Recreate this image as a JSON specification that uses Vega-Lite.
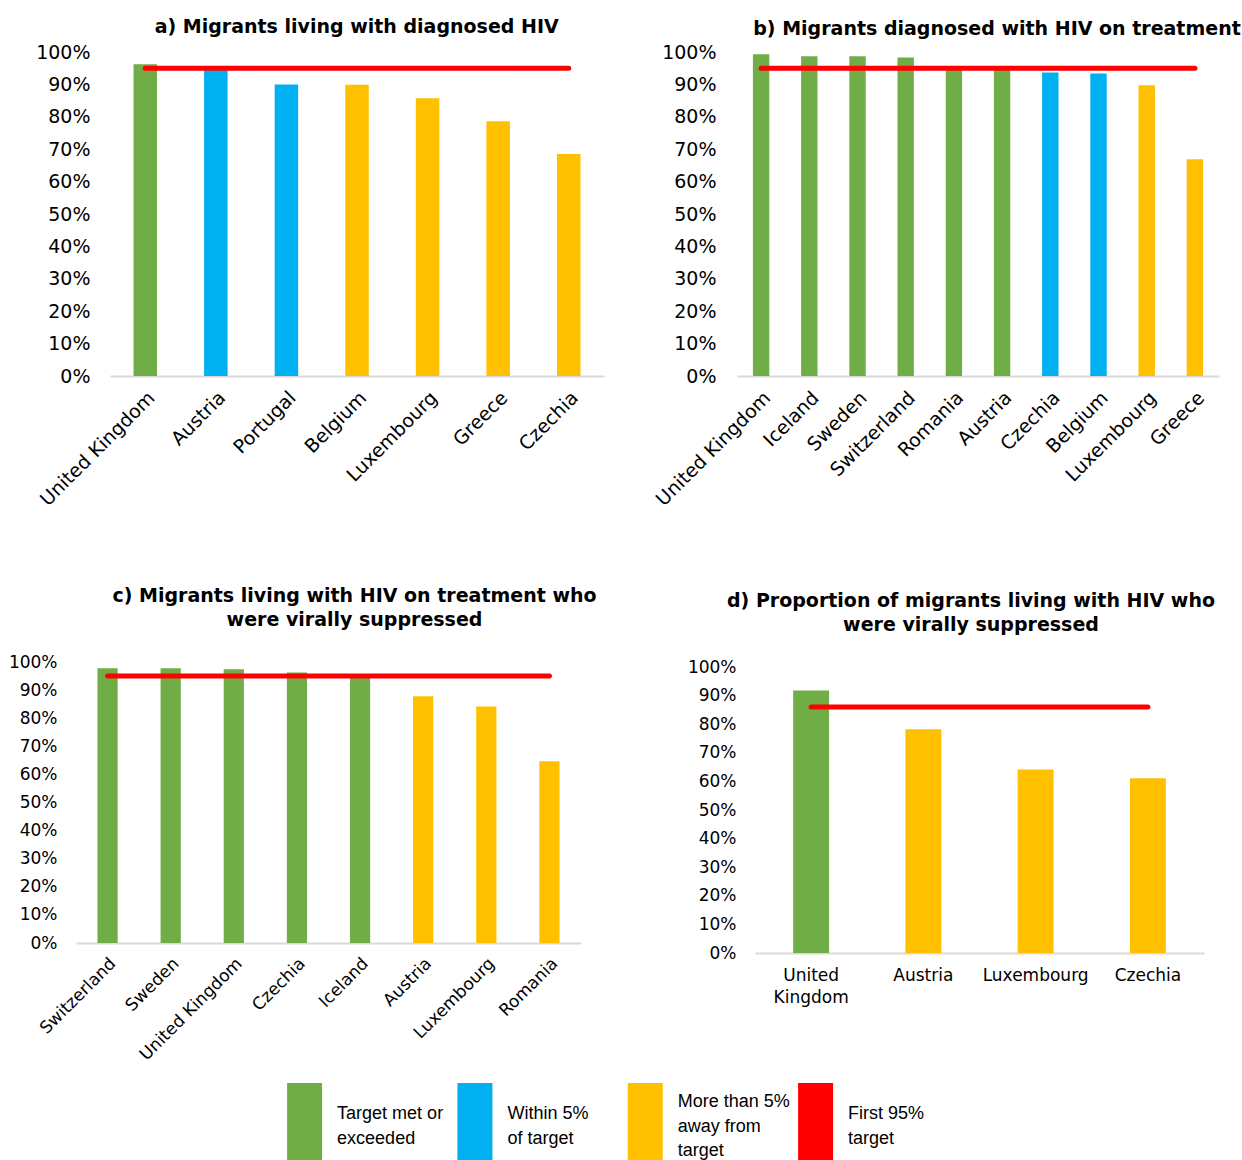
{
  "$schema": "https://vega.github.io/schema/vega-lite/v6.json",
  "padding": {"left": 8, "top": 18, "right": 0, "bottom": 0},
  "background": "white",
  "datasets": {
    "a": [
      {"country": "United Kingdom", "value": 0.962, "status": "Target met or exceeded"},
      {"country": "Austria", "value": 0.945, "status": "Within 5% of target"},
      {"country": "Portugal", "value": 0.900, "status": "Within 5% of target"},
      {"country": "Belgium", "value": 0.899, "status": "More than 5% away from target"},
      {"country": "Luxembourg", "value": 0.857, "status": "More than 5% away from target"},
      {"country": "Greece", "value": 0.786, "status": "More than 5% away from target"},
      {"country": "Czechia", "value": 0.685, "status": "More than 5% away from target"}
    ],
    "aTarget": [{"country": "United Kingdom", "to": "Czechia", "value": 0.95}],
    "b": [
      {"country": "United Kingdom", "value": 0.993, "status": "Target met or exceeded"},
      {"country": "Iceland", "value": 0.987, "status": "Target met or exceeded"},
      {"country": "Sweden", "value": 0.987, "status": "Target met or exceeded"},
      {"country": "Switzerland", "value": 0.983, "status": "Target met or exceeded"},
      {"country": "Romania", "value": 0.957, "status": "Target met or exceeded"},
      {"country": "Austria", "value": 0.953, "status": "Target met or exceeded"},
      {"country": "Czechia", "value": 0.937, "status": "Within 5% of target"},
      {"country": "Belgium", "value": 0.934, "status": "Within 5% of target"},
      {"country": "Luxembourg", "value": 0.897, "status": "More than 5% away from target"},
      {"country": "Greece", "value": 0.669, "status": "More than 5% away from target"}
    ],
    "bTarget": [{"country": "United Kingdom", "to": "Greece", "value": 0.95}],
    "c": [
      {"country": "Switzerland", "value": 0.978, "status": "Target met or exceeded"},
      {"country": "Sweden", "value": 0.978, "status": "Target met or exceeded"},
      {"country": "United Kingdom", "value": 0.974, "status": "Target met or exceeded"},
      {"country": "Czechia", "value": 0.963, "status": "Target met or exceeded"},
      {"country": "Iceland", "value": 0.956, "status": "Target met or exceeded"},
      {"country": "Austria", "value": 0.878, "status": "More than 5% away from target"},
      {"country": "Luxembourg", "value": 0.842, "status": "More than 5% away from target"},
      {"country": "Romania", "value": 0.647, "status": "More than 5% away from target"}
    ],
    "cTarget": [{"country": "Switzerland", "to": "Romania", "value": 0.95}],
    "d": [
      {"country": "United Kingdom", "value": 0.918, "status": "Target met or exceeded"},
      {"country": "Austria", "value": 0.782, "status": "More than 5% away from target"},
      {"country": "Luxembourg", "value": 0.642, "status": "More than 5% away from target"},
      {"country": "Czechia", "value": 0.611, "status": "More than 5% away from target"}
    ],
    "dTarget": [{"country": "United Kingdom", "to": "Czechia", "value": 0.86}],
    "legend": [
      {"status": "Target met or exceeded", "label": "Target met or|exceeded"},
      {"status": "Within 5% of target", "label": "Within 5%|of target"},
      {"status": "More than 5% away from target", "label": "More than 5%|away from|target"},
      {"status": "First 95% target", "label": "First 95%|target"}
    ]
  },
  "columns": 1,
  "align": "none",
  "spacing": 20,
  "concat": [
    {
      "spacing": 48,
      "hconcat": [
        {
          "width": 528, "height": 324,
          "title": {"text": "a) Migrants living with diagnosed HIV", "offset": 5.7, "dx": 16.7},
          "encoding": {
            "x": {"field": "country", "type": "nominal", "sort": null,
                  "scale": {"range": [34, 528], "paddingInner": 0.667, "paddingOuter": 0.333},
                  "axis": {"title": " ", "titleFontSize": 10, "titlePadding": 47,
                           "labelAngle": -45, "labelFontSize": 19, "labelPadding": 12}},
            "y": {"field": "value", "type": "quantitative", "scale": {"domain": [0, 1]},
                  "axis": {"title": null, "offset": -34, "format": ".0%",
                           "values": [0, 0.1, 0.2, 0.3, 0.4, 0.5, 0.6, 0.7, 0.8, 0.9, 1],
                           "labelFontSize": 19, "labelPadding": 20}}
          },
          "layer": [
            {"data": {"name": "a"}, "mark": {"type": "bar"},
             "encoding": {"color": {"field": "status", "type": "nominal",
               "scale": {"domain": ["Target met or exceeded", "Within 5% of target", "More than 5% away from target", "First 95% target"],
                         "range": ["#70AD47", "#00B0F0", "#FFC000", "#FF0000"]},
               "legend": null}}},
            {"data": {"name": "aTarget"}, "mark": {"type": "rule", "color": "#FF0000", "strokeWidth": 5, "strokeCap": "round"},
             "encoding": {"x2": {"field": "to"}}}
          ]
        },
        {
          "width": 482, "height": 324,
          "title": {"text": "b) Migrants diagnosed with HIV on treatment", "offset": 4.4, "dx": 19},
          "encoding": {
            "x": {"field": "country", "type": "nominal", "sort": null,
                  "scale": {"paddingInner": 0.66, "paddingOuter": 0.33},
                  "axis": {"title": null, "labelAngle": -45, "labelFontSize": 19, "labelPadding": 12}},
            "y": {"field": "value", "type": "quantitative", "scale": {"domain": [0, 1]},
                  "axis": {"title": null, "format": ".0%",
                           "values": [0, 0.1, 0.2, 0.3, 0.4, 0.5, 0.6, 0.7, 0.8, 0.9, 1],
                           "labelFontSize": 19, "labelPadding": 21}}
          },
          "layer": [
            {"data": {"name": "b"}, "mark": {"type": "bar"},
             "encoding": {"color": {"field": "status", "type": "nominal", "legend": null}}},
            {"data": {"name": "bTarget"}, "mark": {"type": "rule", "color": "#FF0000", "strokeWidth": 5, "strokeCap": "round"},
             "encoding": {"x2": {"field": "to"}}}
          ]
        }
      ]
    },
    {
      "spacing": 90,
      "hconcat": [
        {
          "width": 505, "height": 281,
          "title": {"text": "c) Migrants living with HIV on treatment who", "subtitle": "were virally suppressed",
                    "offset": 23, "dx": 26, "subtitlePadding": 5},
          "encoding": {
            "x": {"field": "country", "type": "nominal", "sort": null,
                  "scale": {"paddingInner": 0.68, "paddingOuter": 0.34},
                  "axis": {"title": null, "labelAngle": -45, "labelFontSize": 17, "labelPadding": 12}},
            "y": {"field": "value", "type": "quantitative", "scale": {"domain": [0, 1]},
                  "axis": {"title": null, "format": ".0%",
                           "values": [0, 0.1, 0.2, 0.3, 0.4, 0.5, 0.6, 0.7, 0.8, 0.9, 1],
                           "labelFontSize": 17, "labelPadding": 19}}
          },
          "layer": [
            {"data": {"name": "c"}, "mark": {"type": "bar"},
             "encoding": {"color": {"field": "status", "type": "nominal", "legend": null}}},
            {"data": {"name": "cTarget"}, "mark": {"type": "rule", "color": "#FF0000", "strokeWidth": 5, "strokeCap": "round"},
             "encoding": {"x2": {"field": "to"}}}
          ]
        },
        {
          "width": 449, "height": 291,
          "title": {"text": "d) Proportion of migrants living with HIV who", "subtitle": "were virally suppressed",
                    "offset": 23, "dx": -8.5, "subtitlePadding": 5},
          "encoding": {
            "x": {"field": "country", "type": "nominal", "sort": null,
                  "scale": {"paddingInner": 0.68, "paddingOuter": 0.34},
                  "axis": {"title": null, "labelAngle": 0, "labelFontSize": 17, "labelPadding": 14, "labelLineHeight": 22,
                           "labelExpr": "datum.label == 'United Kingdom' ? ['United', 'Kingdom'] : datum.label"}},
            "y": {"field": "value", "type": "quantitative", "scale": {"domain": [0, 1.0175]},
                  "axis": {"title": null, "format": ".0%",
                           "values": [0, 0.1, 0.2, 0.3, 0.4, 0.5, 0.6, 0.7, 0.8, 0.9, 1],
                           "labelFontSize": 17, "labelPadding": 19}}
          },
          "layer": [
            {"data": {"name": "d"}, "mark": {"type": "bar"},
             "encoding": {"color": {"field": "status", "type": "nominal", "legend": null}}},
            {"data": {"name": "dTarget"}, "mark": {"type": "rule", "color": "#FF0000", "strokeWidth": 5, "strokeCap": "round"},
             "encoding": {"x2": {"field": "to"}}}
          ]
        }
      ]
    },
    {
      "width": 1022, "height": 82,
      "data": {"name": "legend"},
      "encoding": {
        "x": {"field": "status", "type": "nominal", "sort": null,
              "scale": {"paddingInner": 0, "paddingOuter": 1, "align": 0.421}, "axis": null}
      },
      "layer": [
        {"mark": {"type": "bar", "width": 35},
         "encoding": {"color": {"field": "status", "type": "nominal", "legend": null}}},
        {"transform": [{"filter": "indexof(datum.label, '|') == lastindexof(datum.label, '|')"}],
         "mark": {"type": "text", "align": "left", "baseline": "middle", "dx": 32.5, "dy": -10, "lineBreak": "|",
                  "font": "Liberation Sans", "fontSize": 18, "lineHeight": 24.5, "color": "#000"},
         "encoding": {"text": {"field": "label"}}},
        {"transform": [{"filter": "indexof(datum.label, '|') != lastindexof(datum.label, '|')"}],
         "mark": {"type": "text", "align": "left", "baseline": "middle", "dx": 32.5, "dy": -22, "lineBreak": "|",
                  "font": "Liberation Sans", "fontSize": 18, "lineHeight": 24.5, "color": "#000"},
         "encoding": {"text": {"field": "label"}}}
      ]
    }
  ],
  "config": {
    "view": {"stroke": null},
    "font": "DejaVu Sans",
    "title": {"font": "DejaVu Sans", "fontWeight": "bold", "fontSize": 19, "color": "#000",
              "subtitleFont": "DejaVu Sans", "subtitleFontWeight": "bold", "subtitleFontSize": 19, "subtitleColor": "#000"},
    "axis": {"labelFont": "DejaVu Sans", "labelColor": "#000", "ticks": false, "grid": false, "domain": false},
    "axisX": {"domain": true, "domainColor": "#D9D9D9", "domainWidth": 2}
  }
}
